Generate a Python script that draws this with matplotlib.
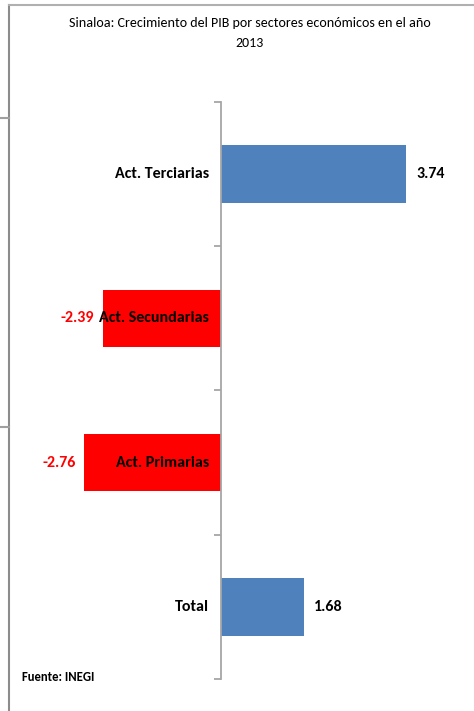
import matplotlib
matplotlib.use("Agg")
import matplotlib.pyplot as plt
from matplotlib.lines import Line2D
from matplotlib.transforms import offset_copy

plt.rcParams['font.family'] = ['Carlito', 'DejaVu Sans']

# data
sectores = ["Act. Terciarias", "Act. Secundarias", "Act. Primarias", "Total"]
crecimiento = [3.74, -2.39, -2.76, 1.68]
titulo = "Sinaloa: Crecimiento del PIB por sectores económicos en el año\n2013"
fuente = "Fuente: INEGI"

W, H = 474, 711
fig = plt.figure(figsize=(W / 100, H / 100), dpi=100)

# axes placed so that zero sits at x=221 px, spine runs from y=102 to 679 px
ax_l, ax_r, ax_t, ax_b = 20, 460, 102, 679
ax = fig.add_axes([ax_l / W, 1 - ax_b / H, (ax_r - ax_l) / W, (ax_b - ax_t) / H])
pxu = 49.5
ax.set_xlim(-(221 - ax_l) / pxu, (ax_r - 221) / pxu)
ax.set_ylim(len(sectores) - 0.5, -0.5)

ypos = list(range(len(sectores)))
colores = ["#4F81BD" if v >= 0 else "#FF0000" for v in crecimiento]
ax.barh(ypos, crecimiento, height=0.40, color=colores, edgecolor="none", zorder=2)

for s in ["top", "right", "bottom"]:
    ax.spines[s].set_visible(False)
ax.spines["left"].set_position(("data", 0))
ax.spines["left"].set_color("#a6a6a6")
ax.spines["left"].set_linewidth(1.3)
ax.set_xticks([])
ax.set_yticks([y - 0.5 for y in ypos] + [len(sectores) - 0.5])
ax.set_yticklabels([])
ax.tick_params(axis="y", direction="out", length=5, width=1.3, color="#a6a6a6")

for y, (name, v) in enumerate(zip(sectores, crecimiento)):
    t_cat = offset_copy(ax.transData, fig=fig, x=-12, y=0, units="dots")
    ax.text(0, y, name, transform=t_cat, ha="right", va="center",
            fontsize=11.5, fontweight="bold", color="black", zorder=3)
    if v >= 0:
        t_val = offset_copy(ax.transData, fig=fig, x=10, y=0, units="dots")
        ax.text(v, y, f"{v:.2f}", transform=t_val, ha="left", va="center",
                fontsize=11.5, fontweight="bold", color="black")
    else:
        t_val = offset_copy(ax.transData, fig=fig, x=-9, y=0, units="dots")
        ax.text(v, y, f"{v:.2f}", transform=t_val, ha="right", va="center",
                fontsize=11.5, fontweight="bold", color="#FF0000", zorder=3)

fig.text(250 / W, 1 - 33 / H, titulo, ha="center", va="center", fontsize=10.1,
         linespacing=1.8, color="black")
fig.text(22 / W, 1 - 677 / H, fuente, ha="left", va="center", fontsize=9.2,
         fontweight="bold", color="black")

# frame of the pasted screenshot
gris = "#8c8c8c"
fig.add_artist(Line2D([9 / W, 9 / W], [0, 1 - 5 / H], transform=fig.transFigure, color=gris, lw=1.5))
fig.add_artist(Line2D([9 / W, 1], [1 - 5 / H, 1 - 5 / H], transform=fig.transFigure, color="#b0b0b0", lw=1.5))
for yy in [118, 427]:
    fig.add_artist(Line2D([0, 9 / W], [1 - yy / H, 1 - yy / H], transform=fig.transFigure, color="#a0a0a0", lw=1.5))

fig.savefig("out.png", dpi=100)
